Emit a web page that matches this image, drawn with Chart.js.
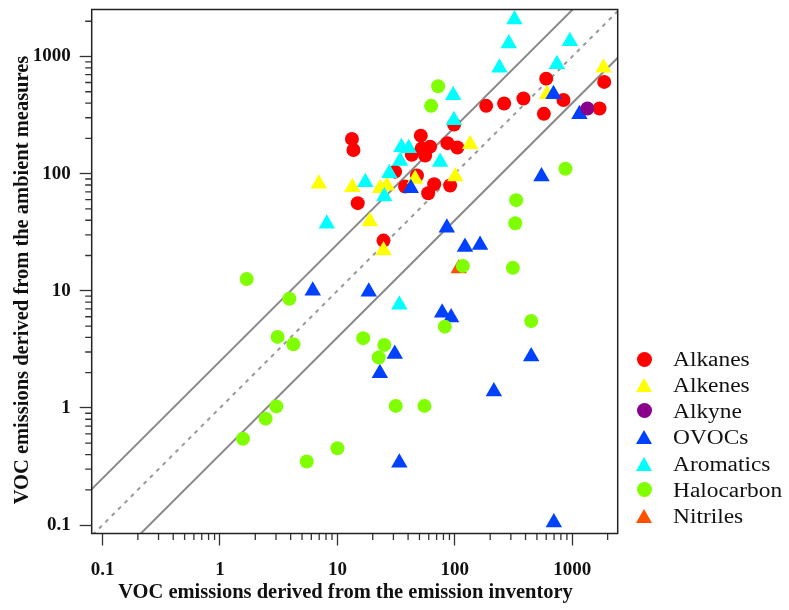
<!DOCTYPE html>
<html><head><meta charset="utf-8">
<script src="https://cdn.jsdelivr.net/npm/chart.js@4.4.1/dist/chart.umd.min.js"></script>
<style>
html,body{margin:0;padding:0;background:#fff;overflow:hidden}
#wrap{position:relative;width:789px;height:610px}
#c{position:absolute;left:0;top:0}
#legend{position:absolute;left:0;top:0;width:789px;height:610px;pointer-events:none;font-family:"Liberation Serif","Times New Roman",serif;font-size:20px;color:#111}
.row{position:absolute;left:634px;height:26px;width:150px}
.mk{position:absolute;left:0;top:0;width:20px;height:26px;display:flex;justify-content:center;align-items:center}
.circ{width:15px;height:15px;border-radius:50%}
.tri{width:0;height:0;border-left:8.5px solid transparent;border-right:8.5px solid transparent;border-bottom-width:14.5px;border-bottom-style:solid}
.lbl{position:absolute;left:39px;top:0;height:26px;line-height:26px;transform:scaleX(1.17);transform-origin:left center;white-space:nowrap}
</style></head>
<body>
<div id="wrap"><canvas id="c" width="789" height="610"></canvas><div id="legend"></div></div>
<script>
// ---------------- data ----------------
const seriesNames  = ['Alkanes','Alkenes','Alkyne','OVOCs','Aromatics','Halocarbon','Nitriles'];
const seriesColors = ['#FF0000','#FFFF00','#8B008B','#0040FF','#00FFFF','#7FFF00','#FF5000'];
const seriesShapes = ['circle','triangle','circle','triangle','triangle','circle','triangle'];

const alkanesX = [13.3,13.7,14.9,24.7,51.3,52.3,61.6,43,55.9,86.5,105,98.6,31,37.7,47.6,59.3,66.7,91.2,185,263,384,600,573,841,1706,1871];
const alkanesY = [198,159,56,26.8,211,164,170,145,143,182,167,263,104,77.6,96.4,68.1,81.3,79.2,379,397,438,647,324,425,360,607];

const alkenesX = [6.95,13.4,23.1,26.4,18.9,24.7,45.9,101,135,610,1845];
const alkenesY = [81.8,76.7,75,79,39,22.1,90,94.3,178,477,802];

const alkyneX = [1346];
const alkyneY = [360];

const ovocsX = [6.17,18.5,78,93,30.8,23,447,215,33.7,697,85.5,122,164,547,42.2,692,1151];
const ovocsY = [10.0,9.8,6.5,5.9,2.89,1.98,2.75,1.38,0.34,0.105,34.5,23.7,24.6,94.3,75,476,321];

const aromaticsX = [8.13,322,288,240,954,740,96.9,98.2,75,35.1,40.5,34.2,27.7,17.3,25.1,33.7];
const aromaticsY = [37.4,2066,1293,802,1352,857,467,286,126,168,165,128,101,84.4,63.7,7.6];

const halocarbonX = [1.69,3.9,3.1,4.22,16.6,3.02,2.45,1.57,5.48,10,25.1,22.5,31.4,55.1,82.2,117,312,447,333,327,875,72.1,62.8];
const halocarbonY = [12.6,8.55,4.04,3.5,3.94,1.03,0.81,0.545,0.349,0.453,3.45,2.69,1.04,1.04,4.94,16.3,15.7,5.52,59.4,37.7,110,558,379];

const nitrilesX = [108];
const nitrilesY = [15.5];

// reference lines: 1:1 (dashed), 2.5:1 and 1:2.5 (solid)
const lineEndsX   = [0.05, 5000];
const upperLineY  = [0.125, 12500];
const oneToOneY   = [0.05, 5000];
const lowerLineY  = [0.02, 2000];

// axis ranges and ticks
const xRange = [0.0809, 2437];
const yRange = [0.0847, 2519];
const tickDecades = [0.1, 1, 10, 100, 1000];
const tickMultipliers = [1,2,3,4,5,6,7,8,9];
const tickLabels = ['0.1','1','10','100','1000'];

const xTitle = 'VOC emissions derived from the emission inventory';
const yTitle = 'VOC emissions derived from the ambient measures';

// ---------------- build ----------------
const pts = (xs, ys) => xs.map((v, i) => ({x: v, y: ys[i]}));
const seriesData = [
  pts(alkanesX, alkanesY), pts(alkenesX, alkenesY), pts(alkyneX, alkyneY),
  pts(ovocsX, ovocsY), pts(aromaticsX, aromaticsY), pts(halocarbonX, halocarbonY),
  pts(nitrilesX, nitrilesY)
];
const drawOrder = [7, 6, 3, 4, 2, 1, 5]; // higher drawn first

const tickValues = [];
tickDecades.forEach(d => tickMultipliers.forEach(m => tickValues.push(+(d * m).toPrecision(6))));
const isMajor = v => Math.abs(Math.log10(v) - Math.round(Math.log10(v))) < 1e-9;
const labelFor = v => {
  if (!isMajor(v)) return '';
  const i = tickDecades.findIndex(d => Math.abs(d - v) < 1e-9 * d);
  return i >= 0 ? tickLabels[i] : '';
};

const datasets = seriesData.map((d, i) => ({
  type: 'scatter',
  label: seriesNames[i],
  data: d,
  pointStyle: seriesShapes[i],
  pointRadius: seriesShapes[i] === 'circle' ? 7 : 9.5,
  pointHoverRadius: seriesShapes[i] === 'circle' ? 7 : 9.5,
  backgroundColor: seriesColors[i],
  borderColor: seriesColors[i],
  borderWidth: 0,
  order: drawOrder[i]
}));
const refLine = (ys, dash, color) => ({
  type: 'line', label: '', data: pts(lineEndsX, ys),
  borderColor: color, borderWidth: 2, borderDash: dash, pointRadius: 0,
  fill: false, order: 20
});
datasets.push(refLine(upperLineY, [], '#8a8a8a'));
datasets.push(refLine(oneToOneY, [4, 5], '#999999'));
datasets.push(refLine(lowerLineY, [], '#8a8a8a'));

const tickFont = {family: '"Liberation Serif","Times New Roman",serif', size: 19, weight: 'bold'};
const makeScale = (range, isX) => ({
  type: 'logarithmic',
  min: range[0], max: range[1],
  afterBuildTicks: s => { s.ticks = tickValues.filter(v => v >= range[0] && v <= range[1]).map(v => ({value: v, major: isMajor(v)})); },
  afterFit: s => {
    if (isX) s.height = 610 - 533.5; else s.width = 91.7;
    s.paddingTop = 0; s.paddingBottom = 0; s.paddingLeft = 0; s.paddingRight = 0;
  },
  ticks: {
    autoSkip: false, maxRotation: 0, minRotation: 0,
    padding: isX ? 13 : 9,
    color: '#111', font: tickFont,
    callback: v => labelFor(v)
  },
  grid: {
    drawOnChartArea: false, drawTicks: true, tickLength: 12, tickWidth: 1.3,
    tickColor: c => (c.tick && isMajor(c.tick.value)) ? '#333' : 'rgba(0,0,0,0)'
  },
  border: {display: false},
  title: {display: false}
});

const decor = {
  id: 'decor',
  afterDraw(chart) {
    const {ctx, chartArea: a, scales: {x, y}} = chart;
    ctx.save();
    ctx.strokeStyle = '#333'; ctx.lineWidth = 1.3;
    ctx.beginPath();
    tickValues.forEach(v => {
      if (isMajor(v)) return;
      if (v >= xRange[0] && v <= xRange[1]) {
        const px = x.getPixelForValue(v);
        ctx.moveTo(px, a.bottom); ctx.lineTo(px, a.bottom + 6.5);
      }
      if (v >= yRange[0] && v <= yRange[1]) {
        const py = y.getPixelForValue(v);
        ctx.moveTo(a.left, py); ctx.lineTo(a.left - 6.5, py);
      }
    });
    ctx.stroke();
    ctx.strokeStyle = '#222'; ctx.lineWidth = 1.5;
    ctx.strokeRect(a.left, a.top, a.right - a.left, a.bottom - a.top);
    ctx.fillStyle = '#111';
    ctx.font = 'bold 20.5px "Liberation Serif","Times New Roman",serif';
    ctx.textAlign = 'center'; ctx.textBaseline = 'alphabetic';
    ctx.fillText(xTitle, 345.5, 598);
    ctx.translate(27.5, 280);
    ctx.rotate(-Math.PI / 2);
    ctx.fillText(yTitle, 0, 0);
    ctx.restore();
  }
};

new Chart(document.getElementById('c'), {
  data: {datasets},
  options: {
    responsive: false, animation: false, devicePixelRatio: 1,
    layout: {padding: {left: 0, top: 7.3, right: 171.3, bottom: 0}},
    scales: {x: makeScale(xRange, true), y: makeScale(yRange, false)},
    plugins: {legend: {display: false}, tooltip: {enabled: false}}
  },
  plugins: [decor]
});

// legend (HTML)
const legendCenters = [359.3, 384.6, 410.9, 437.2, 463.5, 489.8, 515.5];
const leg = document.getElementById('legend');
seriesNames.forEach((n, i) => {
  const row = document.createElement('div');
  row.className = 'row';
  row.style.top = (legendCenters[i] - 13) + 'px';
  const mk = document.createElement('div'); mk.className = 'mk';
  const shape = document.createElement('div');
  if (seriesShapes[i] === 'circle') { shape.className = 'circ'; shape.style.background = seriesColors[i]; }
  else { shape.className = 'tri'; shape.style.borderBottomColor = seriesColors[i]; }
  mk.appendChild(shape);
  const lb = document.createElement('div'); lb.className = 'lbl'; lb.textContent = n;
  row.appendChild(mk); row.appendChild(lb);
  leg.appendChild(row);
});
</script>
</body></html>
